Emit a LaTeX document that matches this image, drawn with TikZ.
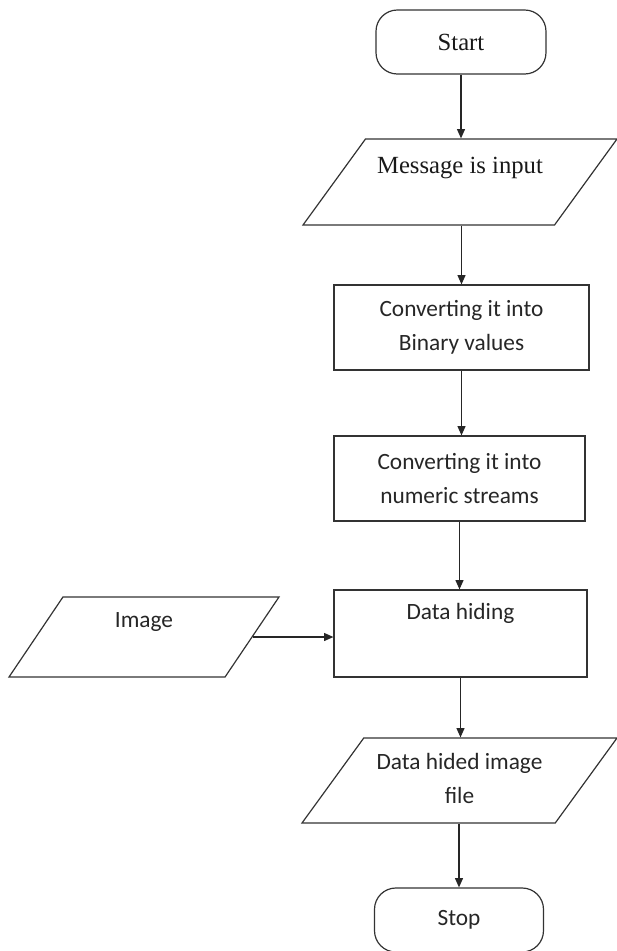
\documentclass[tikz,border=0pt]{standalone}
\usepackage{fontspec}
\newfontfamily\serifface{Liberation Serif}
\newfontfamily\sansface{Carlito}
\usetikzlibrary{positioning, arrows.meta, shapes.geometric}
\def\px{0.75pt}

\begin{document}
\begin{tikzpicture}[x=\px, y=-\px, line width=0.9pt,
  flow/.style={-{Triangle[length=7pt,width=6pt]}, black!85},
  terminal/.style={draw=black!80, rectangle, rounded corners=16pt, minimum width=170*\px, minimum height=64*\px, inner sep=0pt},
  procbox/.style={draw=black!80, rectangle, inner sep=0pt, align=center},
  iobox/.style={draw=black!80, trapezium, trapezium stretches body=true, trapezium left angle=54, trapezium right angle=126, inner sep=0pt, align=center},
  serif text/.style={font={\serifface\fontsize{18.5}{22}\selectfont}, text=black!90},
  sans text/.style={font={\sansface\fontsize{17.5}{25.5}\selectfont}, text=black!85}]
\useasboundingbox (0,0) rectangle (617,951);

% main column
\node[terminal, serif text] (start) at (461,42) {Start};
\node[iobox, serif text, minimum width=314*\px, text height=26pt, text depth=38.5pt] (msg) at (460,182) {Message is input};
\node[procbox, sans text, minimum width=255*\px, minimum height=85*\px] (bin) at (461.5,327.5) {Converting it into\\Binary values};
\node[procbox, sans text, minimum width=251*\px, minimum height=85*\px] (num) at (459.5,478.5) {Converting it into\\numeric streams};
\node[procbox, minimum width=253*\px, minimum height=87*\px,
  label={[sans text, yshift=20*\px]center:Data hiding}] (hide) at (460.5,633.5) {};
\node[iobox, sans text, minimum width=315*\px, text height=48.75pt, text depth=15pt] (out) at (459.5,780.5) {Data hided image\\file};
\node[terminal, sans text, minimum width=169*\px] (stop) at (459,920) {Stop};

% side input
\node[iobox, sans text, trapezium left angle=56, trapezium right angle=124, minimum width=270*\px, text height=22.5pt, text depth=37.5pt] (img) at (144,637) {Image};

% connectors
\draw[flow] (start) -- (start |- msg.north);
\draw[flow] (bin.north |- msg.south) -- (bin);
\draw[flow] (bin) -- (bin |- num.north);
\draw[flow] (num) -- (num |- hide.north);
\draw[flow] (img.east) -- (img.east -| hide.west);
\draw[flow] (hide) -- (hide |- out.north);
\draw[flow] (stop |- out.south) -- (stop);
\end{tikzpicture}
\end{document}
